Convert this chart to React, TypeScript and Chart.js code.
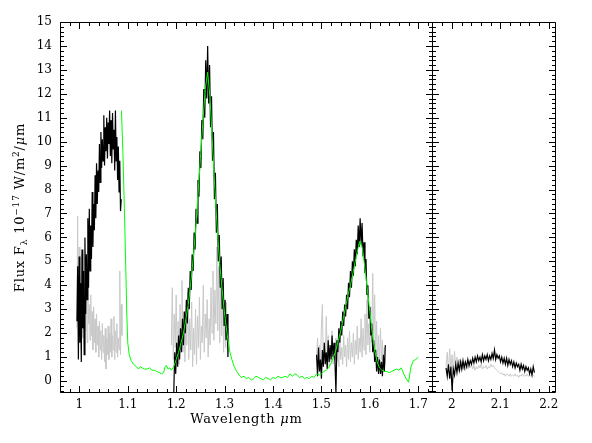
import React, { useEffect, useRef } from 'react';
import { Chart, registerables } from 'chart.js';

Chart.register(...registerables);

const FONT_FAMILY = "'DejaVu Serif', 'Liberation Serif', serif";

// Axis ranges
const LEFT_X_MIN = 0.96;
const LEFT_X_MAX = 1.7305;
const RIGHT_X_MIN = 1.959;
const RIGHT_X_MAX = 2.215;
const Y_MIN = -0.5;
const Y_MAX = 15;

// Tick labels
const LEFT_X_TICKS = [1, 1.1, 1.2, 1.3, 1.4, 1.5, 1.6, 1.7];
const RIGHT_X_TICKS = [2, 2.1, 2.2];
const Y_TICKS = [0, 1, 2, 3, 4, 5, 6, 7, 8, 9, 10, 11, 12, 13, 14, 15];

// Model spectrum (green)
const MODEL_WL = [
  1.087, 1.09, 1.093, 1.096, 1.098, 1.1, 1.103, 1.107, 1.112, 1.118, 1.122, 1.126, 1.13, 1.135, 1.14, 1.145,
  1.15, 1.155, 1.16, 1.165, 1.17, 1.174, 1.177, 1.18, 1.183, 1.187, 1.19, 1.195, 1.2, 1.205, 1.21, 1.215,
  1.22, 1.225, 1.23, 1.235, 1.24, 1.245, 1.25, 1.255, 1.26, 1.265, 1.27, 1.275, 1.28, 1.285, 1.29, 1.295,
  1.3, 1.305, 1.31, 1.315, 1.32, 1.325, 1.33, 1.335, 1.34, 1.345, 1.35, 1.355, 1.36, 1.365, 1.37, 1.375,
  1.38, 1.385, 1.39, 1.395, 1.4, 1.405, 1.41, 1.415, 1.42, 1.425, 1.43, 1.435, 1.44, 1.445, 1.45, 1.455,
  1.46, 1.465, 1.47, 1.475, 1.48, 1.485, 1.49, 1.495, 1.5, 1.505, 1.51, 1.515, 1.52, 1.525, 1.53, 1.535,
  1.54, 1.545, 1.55, 1.555, 1.56, 1.565, 1.57, 1.575, 1.58, 1.585, 1.59, 1.595, 1.6, 1.605, 1.61, 1.615,
  1.62, 1.625, 1.63, 1.635, 1.64, 1.645, 1.65, 1.655, 1.66, 1.665, 1.67, 1.675, 1.68, 1.685, 1.69, 1.695, 1.7,
];
const MODEL_FLUX = [
  11.3, 9.5, 7.2, 4.6, 2.8, 1.6, 1.1, 0.85, 0.7, 0.6, 0.5, 0.6, 0.55, 0.5, 0.5, 0.55,
  0.45, 0.45, 0.4, 0.35, 0.3, 0.35, 0.6, 0.65, 0.5, 0.55, 0.45, 0.6, 0.9, 1.2, 1.6, 2.0,
  2.6, 3.2, 4.1, 5.1, 6.3, 7.8, 9.3, 10.8, 12.2, 12.9, 11.8, 9.9, 8.0, 6.3, 4.9, 3.8,
  2.8, 2.0, 1.3, 0.9, 0.6, 0.4, 0.25, 0.15, 0.2, 0.1, 0.15, 0.05, 0.1, 0.2, 0.15, 0.1,
  0.05, 0.15, 0.1, 0.05, 0.15, 0.1, 0.2, 0.15, 0.15, 0.2, 0.15, 0.3, 0.2, 0.3, 0.25, 0.15,
  0.2, 0.1, 0.15, 0.1, 0.2, 0.15, 0.3, 0.25, 0.3, 0.4, 0.45, 0.55, 0.75, 1.0, 1.3, 1.7,
  2.1, 2.6, 3.1, 3.6, 4.0, 4.5, 5.0, 5.5, 5.85, 5.5, 4.7, 3.8, 2.9, 2.0, 1.3, 0.8,
  0.55, 0.45, 0.4, 0.4, 0.35, 0.4, 0.45, 0.5, 0.45, 0.55, 0.3, 0.1, -0.05, 0.6, 0.85, 0.9, 1.0,
];

// Observed spectra: each band sampled on a regular wavelength grid (start, step)
const Z_START = 0.995;
const Z_STEP = 0.0015;
const Z_BLACK = [
  2.5, 4.8, 0.9, 5.2, 1.6, 4.1, 0.8, 5.5, 2.2, 4.6, 1.1, 6.0, 2.8, 5.3, 3.4, 6.8,
  3.9, 7.2, 4.6, 6.5, 5.1, 7.9, 5.6, 7.4, 6.3, 8.6, 6.8, 9.1, 7.4, 8.8, 7.9, 9.9,
  8.3, 10.4, 8.9, 10.1, 9.2, 11.1, 9.0, 10.6, 9.6, 11.0, 9.3, 10.8, 9.9, 11.3, 9.4, 10.9,
  9.1, 11.2, 9.7, 10.5, 8.8, 11.3, 9.2, 10.2, 8.4, 9.8, 7.9, 9.2, 7.1, 7.6,
];
const Z_GRAY = [
  2.2, 6.9, 1.4, 5.6, 2.0, 4.4, 1.3, 5.3, 1.8, 3.9, 1.5, 4.6, 2.1, 3.5, 1.6, 4.1,
  2.4, 3.2, 1.7, 3.6, 1.9, 2.9, 1.3, 3.1, 1.6, 2.6, 1.2, 2.8, 1.5, 2.3, 1.0, 2.5,
  1.3, 2.1, 0.9, 2.4, 1.2, 1.9, 0.8, 2.2, 0.5, 1.8, 1.1, 2.3, 0.9, 2.0, 1.2, 2.6,
  1.0, 1.9, 1.3, 2.7, 0.9, 2.1, 1.2, 2.4, 1.0, 1.8, 1.3, 4.6, 1.1, 3.2, 1.9,
];

const J_BLACK_START = 1.195;
const J_GRAY_START = 1.19;
const J_STEP = 0.002;
const J_BLACK = [
  -0.5, 1.2, 0.3, 1.6, 0.6, 1.9, 0.9, 2.2, 1.2, 2.6, 1.5, 2.9, 2.0, 3.4, 2.4, 3.9,
  3.0, 4.6, 3.8, 5.3, 4.6, 6.2, 5.5, 7.2, 6.6, 8.4, 7.7, 9.6, 8.9, 10.9, 10.1, 12.2,
  11.0, 13.4, 11.8, 14.0, 11.6, 13.2, 10.6, 11.9, 9.2, 10.4, 7.6, 8.7, 6.2, 7.4, 5.0, 6.1,
  3.9, 5.2, 3.0, 4.3, 2.3, 3.4, 1.7, 2.8, 1.0,
];
const J_GRAY = [
  1.5, 3.9, 0.9, 2.8, 1.4, 3.6, 1.0, 2.5, 0.7, 3.2, 1.6, 4.2, 1.2, 2.9, 0.8, 2.4,
  1.5, 3.7, 0.9, 2.6, 1.3, 3.3, 0.6, 2.2, 1.1, 3.0, 0.7, 2.7, 1.4, 3.5, 0.9, 2.3,
  1.6, 4.0, 1.2, 2.8, 1.8, 3.4, 1.0, 2.6, 1.5, 3.9, 2.0, 4.6, 1.7, 3.8, 2.4, 5.6,
  2.1, 4.8, 1.6, 4.1, 1.9, 3.5, 1.2, 2.9, 1.4, 3.3, 1.0, 2.2, 1.3,
];

const H_START = 1.49;
const H_STEP = 0.002;
const H_BLACK = [
  1.1, 0.2, 1.4, 0.4, 0.9, 0.1, 1.3, 0.6, 1.6, 0.7, 1.2, 0.5, 1.7, 0.8, 1.5, 0.9,
  1.9, 1.0, 1.6, 0.8, -0.5, 1.7, 1.2, 2.2, 1.6, 2.5, 1.9, 2.9, 2.3, 3.2, 2.7, 3.6,
  3.0, 4.1, 3.5, 4.6, 3.9, 5.0, 4.4, 5.5, 4.8, 5.9, 5.3, 6.5, 5.6, 6.8, 5.7, 6.6,
  5.2, 5.8, 4.5, 5.1, 3.6, 4.0, 2.6, 3.1, 1.9, 2.4, 1.2, 1.7, 0.8, 1.3, 0.4, 1.0,
  0.3, 0.9, 0.3, 0.8, 0.2, 1.1, 0.4, 1.5,
];
const H_GRAY = [
  0.9, 1.8, 0.6, 1.5, 0.8, 2.3, 3.2, 0.7, 1.6, 0.9, 2.7, 1.0, 1.9, 0.6, 1.4, 0.8,
  2.1, 0.7, 1.5, 0.9, 1.8, 0.8, 1.3, 0.6, 1.7, 0.9, 1.4, 0.7, 1.9, 1.0, 1.5, 0.6,
  1.8, 0.9, 2.1, 0.8, 1.6, 1.0, 2.0, 0.7, 1.7, 1.1, 2.3, 0.9, 1.8, 1.2, 2.6, 1.0,
  2.2, 1.3, 2.8, 1.1, 3.4, 1.5, 2.4, 1.2, 3.1, 1.6, 4.5, 1.4, 3.6, 1.0, 2.5, 0.8,
  1.9, 0.6, 2.2, 0.9, 1.7, 0.5, 1.4, 0.7,
];

const K_START = 1.988;
const K_STEP = 0.0025;
const K_BLACK = [
  0.55, 0.2, 0.7, 0.1, 0.6, -0.4, 0.5, 0.25, 0.7, 0.35, 0.75, 0.45, 0.8, 0.5, 0.85, 0.55,
  0.8, 0.6, 0.9, 0.65, 0.85, 0.7, 0.95, 0.75, 1.0, 0.8, 1.05, 0.85, 1.0, 0.8, 1.1, 0.85,
  1.05, 0.9, 1.1, 0.85, 1.05, 0.9, 1.15, 0.95, 1.3, 0.9, 1.1, 0.95, 1.05, 0.8, 1.0, 0.75,
  0.95, 0.7, 0.95, 0.65, 0.9, 0.7, 0.85, 0.6, 0.8, 0.55, 0.75, 0.6, 0.7, 0.45, 0.7, 0.5,
  0.65, 0.4, 0.6, 0.45, 0.55, 0.3, 0.5, 0.25, 0.6, 0.35,
];
const K_GRAY = [
  0.6, 1.2, 0.4, 1.35, 0.5, 1.1, 0.3, 1.25, 0.45, 1.0, 0.4, 0.9, 0.45, 0.85, 0.5, 0.8,
  0.45, 0.7, 0.5, 0.75, 0.55, 0.7, 0.5, 0.65, 0.45, 0.6, 0.5, 0.65, 0.55, 0.7, 0.5, 0.6,
  0.55, 0.65, 0.5, 0.6, 0.55, 0.7, 0.6, 0.65, 0.55, 0.5, 0.45, 0.4, 0.35, 0.3, 0.35, 0.25,
  0.3, 0.2, 0.3, 0.25, 0.2, 0.3, 0.2, 0.25, 0.2, 0.3, 0.2, 0.25, 0.15, 0.25, 0.2, 0.3,
  0.2, 0.25, 0.2, 0.3, 0.2, 0.25, 0.2, 0.3, 0.25, 0.2,
];

const COLOR_BLACK = '#000000';
const COLOR_GRAY = '#c8c8c8';
const COLOR_MODEL = '#00ff00';

const grid = (start: number, step: number, vals: number[]) =>
  vals.map((y, i) => ({ x: +(start + step * i).toFixed(5), y }));

const lineDs = (data: any[], color: string, order: number, width = 1) => ({
  data,
  borderColor: color,
  borderWidth: width,
  pointRadius: 0,
  tension: 0,
  fill: false,
  order,
});

// Frame with inward ticks on all four sides (PGPLOT style)
const framePlugin = {
  id: 'frameTicks',
  afterDraw(chart: any) {
    const { ctx, chartArea, scales } = chart;
    const xs = scales.x;
    const ys = scales.y;
    const L = Math.floor(chartArea.left) + 0.5;
    const R = Math.ceil(chartArea.right) - 0.5;
    const T = Math.floor(chartArea.top) + 0.5;
    const B = Math.ceil(chartArea.bottom) - 0.5;
    ctx.save();
    ctx.strokeStyle = '#000';
    ctx.lineWidth = 1;
    ctx.beginPath();
    ctx.rect(L, T, R - L, B - T);
    const MAJ = 6.5;
    const MIN = 3.5;
    const kx0 = Math.ceil(xs.min / 0.02 - 1e-6);
    const kx1 = Math.floor(xs.max / 0.02 + 1e-6);
    for (let k = kx0; k <= kx1; k++) {
      const px = Math.round(xs.getPixelForValue(k * 0.02)) + 0.5;
      const len = k % 5 === 0 ? MAJ : MIN;
      ctx.moveTo(px, B);
      ctx.lineTo(px, B - len);
      ctx.moveTo(px, T);
      ctx.lineTo(px, T + len);
    }
    const ky0 = Math.ceil(ys.min / 0.2 - 1e-6);
    const ky1 = Math.floor(ys.max / 0.2 + 1e-6);
    for (let k = ky0; k <= ky1; k++) {
      const py = Math.round(ys.getPixelForValue(k * 0.2)) + 0.5;
      const len = k % 5 === 0 ? MAJ : MIN;
      ctx.moveTo(L, py);
      ctx.lineTo(L + len, py);
      ctx.moveTo(R, py);
      ctx.lineTo(R - len, py);
    }
    ctx.stroke();
    ctx.restore();
  },
};

type Seg = { t: string; italic?: boolean; size?: number; dy?: number };

const drawSegs = (ctx: any, segs: Seg[], cx: number, baseY: number) => {
  const fontFor = (s: Seg) => `${s.italic ? 'italic ' : ''}${s.size || 13}px ${FONT_FAMILY}`;
  ctx.letterSpacing = '0.8px';
  let total = 0;
  const widths = segs.map((s) => {
    ctx.font = fontFor(s);
    const w = ctx.measureText(s.t).width;
    total += w;
    return w;
  });
  let x = cx - total / 2;
  ctx.textAlign = 'left';
  ctx.textBaseline = 'alphabetic';
  ctx.fillStyle = '#000';
  segs.forEach((s, i) => {
    ctx.font = fontFor(s);
    ctx.fillText(s.t, x, baseY + (s.dy || 0));
    x += widths[i];
  });
};

const X_TITLE: Seg[] = [{ t: 'Wavelength ' }, { t: 'μ', italic: true }, { t: 'm' }];
const Y_TITLE: Seg[] = [
  { t: 'Flux F' },
  { t: 'λ', size: 9, dy: 3 },
  { t: ' 10' },
  { t: '−17', size: 9, dy: -5 },
  { t: ' W/m' },
  { t: '2', size: 9, dy: -5 },
  { t: '/' },
  { t: 'μ', italic: true },
  { t: 'm' },
];

const titlePlugin = {
  id: 'axisTitles',
  afterDraw(chart: any) {
    const { ctx, chartArea } = chart;
    ctx.save();
    drawSegs(ctx, X_TITLE, (chartArea.left + chartArea.right) / 2, 423);
    ctx.restore();
    ctx.save();
    ctx.translate(24, (chartArea.top + chartArea.bottom) / 2);
    ctx.rotate(-Math.PI / 2);
    drawSegs(ctx, Y_TITLE, 0, 0);
    ctx.restore();
  },
};

const fmt = (v: any) => String(Math.round(Number(v) * 10) / 10);

const tickFont = { family: FONT_FAMILY, size: 12 };

const baseOptions = (
  xMin: number,
  xMax: number,
  xTicks: number[],
  padding: any,
  showYLabels: boolean,
  yWidth: number,
) => ({
  animation: false,
  responsive: false,
  maintainAspectRatio: false,
  events: [],
  layout: { padding },
  plugins: { legend: { display: false }, tooltip: { enabled: false } },
  scales: {
    x: {
      type: 'linear',
      min: xMin,
      max: xMax,
      grid: { display: false, drawTicks: false },
      border: { display: false },
      ticks: {
        font: tickFont,
        color: '#000',
        padding: 5,
        maxRotation: 0,
        autoSkip: false,
        includeBounds: false,
        callback: fmt,
      },
      afterBuildTicks: (s: any) => {
        s.ticks = xTicks.map((v) => ({ value: v }));
      },
      afterFit: (s: any) => {
        s.height = 50;
      },
    },
    y: {
      type: 'linear',
      min: Y_MIN,
      max: Y_MAX,
      grid: { display: false, drawTicks: false },
      border: { display: false },
      ticks: {
        display: showYLabels,
        font: tickFont,
        color: '#000',
        padding: 8,
        autoSkip: false,
        includeBounds: false,
        callback: fmt,
      },
      afterBuildTicks: (s: any) => {
        s.ticks = Y_TICKS.map((v) => ({ value: v }));
      },
      afterFit: (s: any) => {
        s.width = yWidth;
      },
    },
  },
});

export default function App() {
  const leftRef = useRef<HTMLCanvasElement>(null);
  const rightRef = useRef<HTMLCanvasElement>(null);

  useEffect(() => {
    const model = MODEL_WL.map((x, i) => ({ x, y: MODEL_FLUX[i] }));
    const left = new Chart(leftRef.current as any, {
      type: 'line',
      data: {
        datasets: [
          lineDs(grid(Z_START, Z_STEP, Z_GRAY), COLOR_GRAY, 3),
          lineDs(grid(J_GRAY_START, J_STEP, J_GRAY), COLOR_GRAY, 3),
          lineDs(grid(H_START, H_STEP, H_GRAY), COLOR_GRAY, 3),
          lineDs(grid(Z_START, Z_STEP, Z_BLACK), COLOR_BLACK, 2, 1.2),
          lineDs(grid(J_BLACK_START, J_STEP, J_BLACK), COLOR_BLACK, 2, 1.2),
          lineDs(grid(H_START, H_STEP, H_BLACK), COLOR_BLACK, 2, 1.2),
          lineDs(model, COLOR_MODEL, 1),
        ],
      },
      options: baseOptions(LEFT_X_MIN, LEFT_X_MAX, LEFT_X_TICKS, { left: 0, right: 159, top: 22, bottom: 0 }, true, 60) as any,
      plugins: [framePlugin, titlePlugin],
    });
    const right = new Chart(rightRef.current as any, {
      type: 'line',
      data: {
        datasets: [
          lineDs(grid(K_START, K_STEP, K_GRAY), COLOR_GRAY, 3),
          lineDs(grid(K_START, K_STEP, K_BLACK), COLOR_BLACK, 2, 1.2),
        ],
      },
      options: baseOptions(RIGHT_X_MIN, RIGHT_X_MAX, RIGHT_X_TICKS, { left: 432, right: 36, top: 22, bottom: 0 }, false, 0) as any,
      plugins: [framePlugin],
    });
    return () => {
      left.destroy();
      right.destroy();
    };
  }, []);

  return (
    <div style={{ position: 'fixed', left: 0, top: 0, width: 592, height: 443, background: '#fff' }}>
      <canvas ref={leftRef} width={592} height={443} style={{ position: 'absolute', left: 0, top: 0 }} />
      <canvas ref={rightRef} width={592} height={443} style={{ position: 'absolute', left: 0, top: 0 }} />
    </div>
  );
}
